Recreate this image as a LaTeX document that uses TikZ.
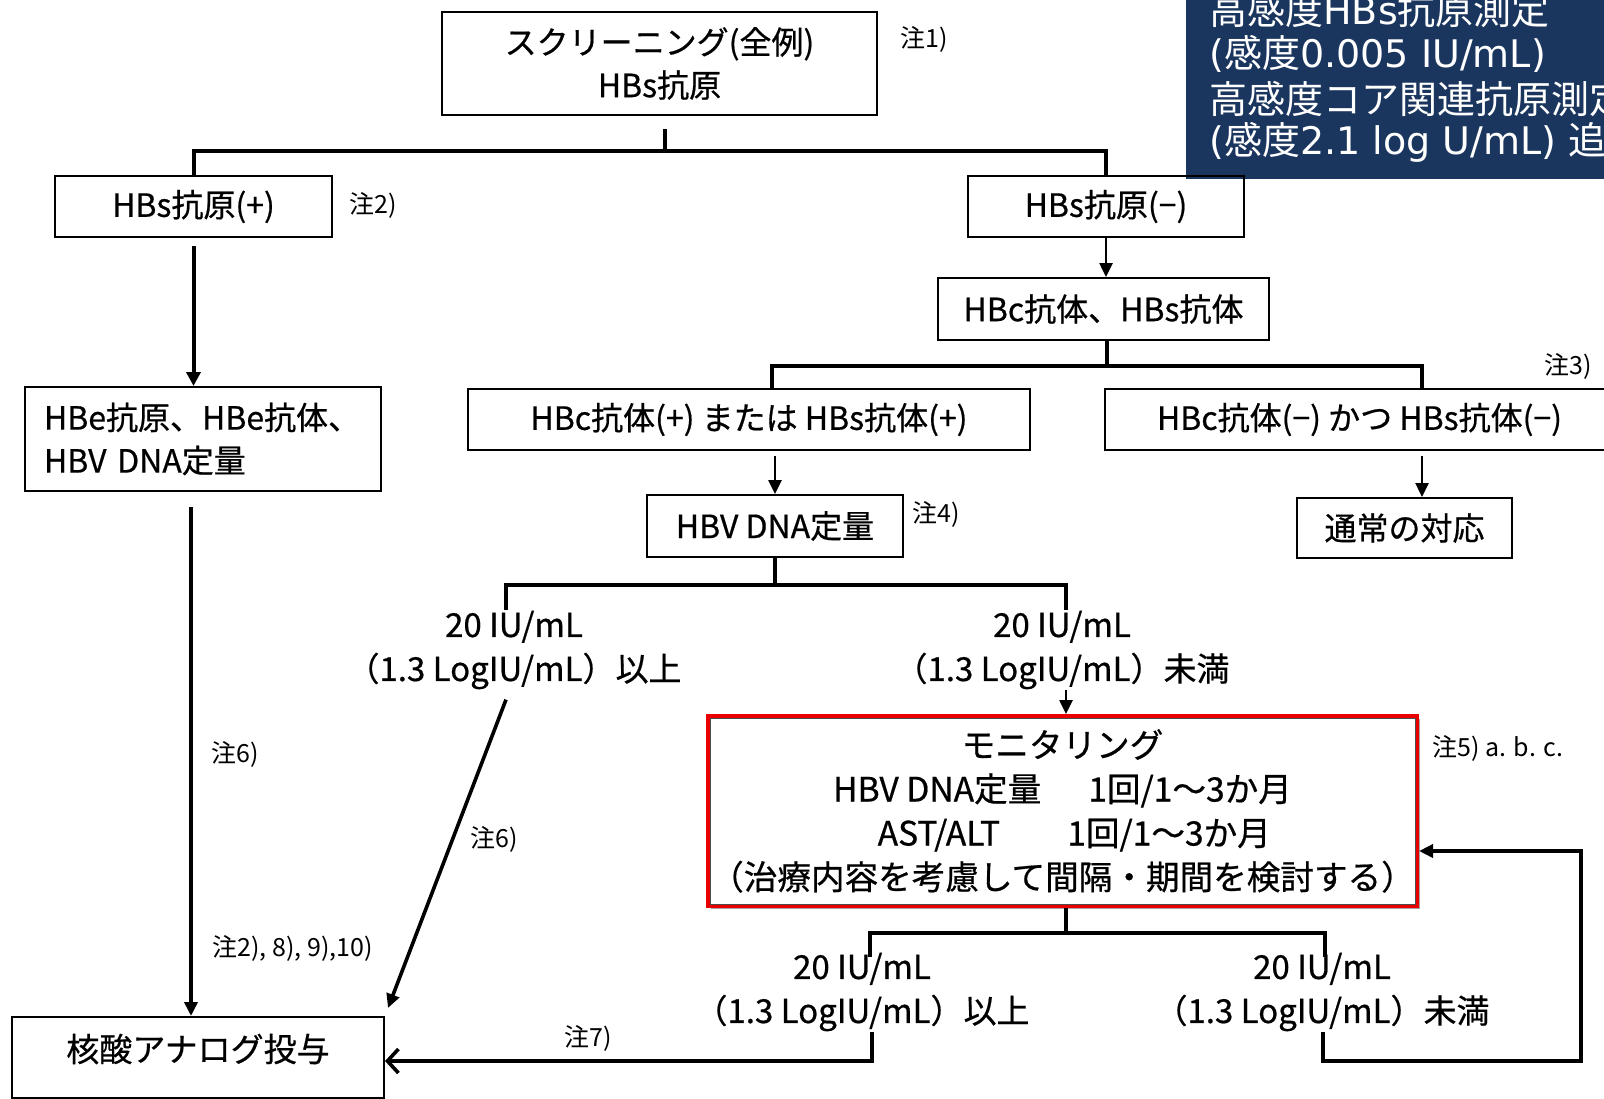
\documentclass[tikz,border=0pt]{standalone}
\usepackage{fontspec}
\setmainfont{Noto Sans CJK JP}
\newfontfamily\jp[FakeBold=0.6]{Noto Sans CJK JP}
\newfontfamily\jpr{Noto Sans CJK JP}
\newfontfamily\lat{DejaVu Sans}
\usetikzlibrary{arrows.meta,shadows}
\definecolor{navy}{RGB}{27,54,94}
\definecolor{mred}{RGB}{232,0,0}
\begin{document}
\begin{tikzpicture}[x=0.5pt,y=-0.5pt,
  box/.style={draw, line width=1pt, inner sep=0pt, align=center, font=\jp\fontsize{16}{21.5}\selectfont},
  tree/.style={line width=2pt},
  arr/.style={line width=1.3pt, -{Triangle[length=7pt,width=6.5pt]}},
  arrb/.style={line width=2pt, -{Triangle[length=7pt,width=7pt]}},
  arrd/.style={line width=1.8pt, -{Triangle[length=7pt,width=6.5pt]}},
  barb/.style={line width=1.6pt, -{Straight Barb[length=5.5pt,width=12pt,line width=1.8pt]}},
  note/.style={inner sep=0pt, font=\jpr\fontsize{12.5}{14}\selectfont},
  lab/.style={inner sep=0pt, align=center, font=\jp\fontsize{16.5}{22}\selectfont},
  navytext/.style={inner sep=0pt, anchor=west, text=white, font=\jpr\fontsize{19}{22}\selectfont}
]
\useasboundingbox (0,0) rectangle (1604,1098);
\clip (0,0) rectangle (1604,1098);
\fill[white] (0,0) rectangle (1604,1098);

% navy panel
\fill[navy] (1186,-20) rectangle (1640,179);
\node[navytext] (nv1) at (1209,10) {高感度{\lat HBs}抗原測定};
\node[navytext] (nv2) at (1209,54) {{\lat (}感度{\lat 0.005 IU/mL)}};
\node[navytext] (nv3) at (1209,99) {高感度コア関連抗原測定};
\node[navytext] (nv4) at (1209,142) {{\lat (}感度{\lat 2.1 log U/mL) }追};

% boxes
\node[box, minimum width=217.5pt, minimum height=51.5pt] (A) at (659.5,63.5) {スクリーニング(全例)\\HBs抗原};
\node[box, minimum width=138.5pt, minimum height=30.5pt] (B) at (193.5,206.5) {HBs抗原(+)};
\node[box, minimum width=138pt, minimum height=30.5pt] (C) at (1106,206.5) {HBs抗原(−)};
\node[box, minimum width=178pt, minimum height=52pt, text width=159pt, align=left] (D) at (203,439) {HBe抗原、HBe抗体、\\HBV DNA定量};
\node[box, minimum width=165.5pt, minimum height=31pt] (E) at (1103.5,309) {HBc抗体、HBs抗体};
\node[box, minimum width=281pt, minimum height=30.5pt] (F) at (749,419.5) {HBc抗体(+) または HBs抗体(+)};
\node[box, minimum width=254.5pt, minimum height=30.5pt] (G) at (1359.5,419.5) {HBc抗体(−) かつ HBs抗体(−)};
\node[box, minimum width=128pt, minimum height=31pt] (H) at (775,526) {HBV DNA定量};
\node[box, minimum width=107.5pt, minimum height=30pt] (I) at (1404.5,528) {通常の対応};
\node[box, draw=mred, fill=white, line width=2pt, minimum width=354.5pt, minimum height=95pt,
      font=\jp\fontsize{16.8}{22}\selectfont,
      drop shadow={shadow xshift=1.5pt, shadow yshift=-1.5pt, opacity=0.35, fill=black}] (K) at (1062.5,811)
  {モニタリング\\HBV DNA定量\hspace{1.4em}1回/1～3か月\\\hspace*{0.7em}AST/ALT\hspace{2em}1回/1～3か月\\（治療内容を考慮して間隔・期間を検討する）};
\draw[black!70, line width=0.5pt] ([shift={(2pt,-2pt)}]K.north west) rectangle ([shift={(-2pt,2pt)}]K.south east);
\node[box, minimum width=186pt, minimum height=40.5pt, anchor=north] (L) at (198,1016) {};
\node[inner sep=0pt, font=\jp\fontsize{16.5}{20}\selectfont] (Lt) at (198,1049) {核酸アナログ投与};

% branch labels
\node[lab] (J1) at (514,650) {20 IU/mL\\（1.3 LogIU/mL）以上};
\node[lab] (J2) at (1062,650) {20 IU/mL\\（1.3 LogIU/mL）未満};
\node[lab] (J3) at (862,992) {20 IU/mL\\（1.3 LogIU/mL）以上};
\node[lab] (J4) at (1322,992) {20 IU/mL\\（1.3 LogIU/mL）未満};

% notes
\node[note] (n1) at (924,39) {注1)};
\node[note] (n2) at (373,205) {注2)};
\node[note] (n3) at (1568,366) {注3)};
\node[note] (n4) at (936,514) {注4)};
\node[note, anchor=west] (n5) at (1432,748) {注5) a. b. c.};
\node[note] (n6a) at (235,754) {注6)};
\node[note] (n6b) at (494,839) {注6)};
\node[note, anchor=west] (n2b) at (212,948) {注2), 8), 9),10)};
\node[note] (n7) at (588,1038) {注7)};

% junctions
\coordinate (jA) at (665,151);
\coordinate (jE) at (1107,366);
\coordinate (jH) at (775,585);
\coordinate (j1t) at (506,610);
\coordinate (j2t) at (1066,610);
\coordinate (jK) at (1066,933);
\coordinate (j3t) at (870,957);
\coordinate (j4t) at (1325,957);
\coordinate (j3b) at (872,1061);
\coordinate (j4b) at (1323,1061);
\coordinate (jR) at (1581,1061);

% connectors
\draw[tree] ([yshift=-6.5pt]A.south -| jA) -- (jA);
\draw[tree] (B.north) |- (jA) -| (C.north);
\draw[arrb] ([yshift=-4pt]B.south) -- (B.south |- D.north);
\draw[arr] (C.south) -- (C.south |- E.north);
\draw[tree] (E.south -| jE) -- (jE);
\draw[tree] ([xshift=11.5pt]F.north) |- (jE) -| ([xshift=31.25pt]G.north);
\draw[arr] ([xshift=13pt,yshift=-2.5pt]F.south) -- (H.north);
\draw[arr] ([xshift=31.25pt,yshift=-2.5pt]G.south) -- ([xshift=8.75pt]I.north);
\draw[tree] (H.south) -- (jH);
\draw[tree] (j1t) |- (jH) -| (j2t);
\draw[arr] ([xshift=2pt]J2.south) -- ([xshift=2pt]J2.south |- K.north);
\draw[arrd] ([xshift=-4pt,yshift=-5pt]J1.south) -- ([shift={(1.5pt,4pt)}]L.north east);
\draw[arrd] ([xshift=-6pt,yshift=-7.5pt]D.south) -- ([xshift=-3.5pt]L.north);
\draw[tree] (K.south -| jK) -- (jK);
\draw[tree] (j3t) |- (jK) -| (j4t);
\draw[barb] ([xshift=5pt]J3.south) -- (j3b) -- (L.east |- j3b);
\draw[arrd] ([xshift=0.5pt]J4.south) -- (j4b) -- (jR) |- ([yshift=-20pt]K.east);
\end{tikzpicture}
\end{document}
